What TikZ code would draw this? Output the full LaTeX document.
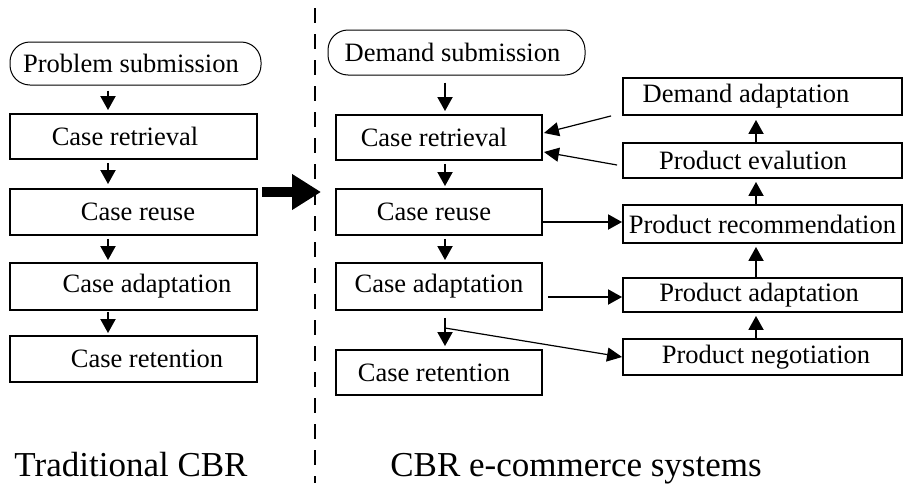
\documentclass[tikz,border=0pt]{standalone}
\usepackage{fontspec}
\setmainfont{Liberation Serif}
\usetikzlibrary{arrows.meta,calc}
\begin{document}
\begin{tikzpicture}[x=1pt,y=-1pt,
  box/.style={draw,line width=1.9pt,inner sep=0pt,font=\fontsize{26.5}{28}\selectfont},
  rbox/.style={draw,line width=1pt,rounded corners=20pt,inner sep=0pt,font=\fontsize{26.5}{28}\selectfont},
  arr/.style={line width=1.9pt,-{Triangle[width=15pt,length=14pt]}},
  tarr/.style={line width=1.2pt,-{Triangle[width=14pt,length=15pt]}},
  title/.style={anchor=base,font=\fontsize{35}{37}\selectfont}
]
\useasboundingbox (0,0) rectangle (905,485);
% left column
\node[rbox,minimum width=251pt,minimum height=43pt] (PS) at (135.5,63.5) {Problem submission\hspace*{9pt}};
\node[box,minimum width=247pt,minimum height=45pt] (CR1) at (133.5,136.5) {Case retrieval\hspace*{17pt}};
\node[box,minimum width=247pt,minimum height=46pt] (CU1) at (133.5,212) {\hspace*{9pt}Case reuse};
\node[box,minimum width=247pt,minimum height=47pt] (CA1) at (133.5,286.5) {\hspace*{27pt}Case adaptation};
\node[box,minimum width=247pt,minimum height=46pt] (CT1) at (133.5,359) {\hspace*{27pt}Case retention};
% right column, left boxes
\node[rbox,minimum width=257pt,minimum height=45pt] (DS) at (456.5,52.5) {Demand submission\hspace*{8pt}};
\node[box,minimum width=206pt,minimum height=45pt] (CR2) at (439,137.5) {Case retrieval\hspace*{10pt}};
\node[box,minimum width=206pt,minimum height=46pt] (CU2) at (439,212) {Case reuse\hspace*{10pt}};
\node[box,minimum width=206pt,minimum height=47pt] (CA2) at (439,286.5) {Case adaptation};
\node[box,minimum width=206pt,minimum height=45pt] (CT2) at (439,372.5) {Case retention\hspace*{10pt}};
% right boxes
\node[box,minimum width=279pt,minimum height=37pt] (DA) at (762.5,96.5) {Demand adaptation\hspace*{33pt}};
\node[box,minimum width=279pt,minimum height=35pt] (PE) at (762.5,160.5) {Product evalution\hspace*{19pt}};
\node[box,minimum width=279pt,minimum height=38pt] (PR) at (762.5,224) {Product recommendation};
\node[box,minimum width=279pt,minimum height=34pt] (PA) at (762.5,295) {Product adaptation\hspace*{7pt}};
\node[box,minimum width=279pt,minimum height=36pt] (PN) at (762.5,357) {\hspace*{7pt}Product negotiation};
% titles
\node[title] (T1) at (131,476) {Traditional CBR};
\node[title] (T2) at (576,476) {CBR e-commerce systems};
% divider
\draw[line width=1.5pt,dash pattern=on 15pt off 11pt] (315,8) -- (315,483);
% big arrow
\coordinate (ba) at (262,192);
\coordinate (bb) at (321,192);
\draw[line width=10pt,-{Triangle[width=34pt,length=29pt]}] (ba) -- (bb);
% left arrows
\coordinate (lx) at (108,0);
\draw[arr,shorten <=5pt,shorten >=3pt] (PS.south -| lx) -- (CR1.north -| lx);
\draw[arr,shorten <=3pt,shorten >=4pt] (CR1.south -| lx) -- (CU1.north -| lx);
\draw[arr,shorten <=3pt,shorten >=2pt] (CU1.south -| lx) -- (CA1.north -| lx);
\draw[arr,shorten <=1pt,shorten >=2pt] (CA1.south -| lx) -- (CT1.north -| lx);
% right column arrows
\coordinate (rx) at (445,0);
\draw[arr,shorten <=7pt,shorten >=3pt] (DS.south -| rx) -- (CR2.north -| rx);
\draw[arr,shorten <=3pt,shorten >=2pt] (CR2.south -| rx) -- (CU2.north -| rx);
\draw[arr,shorten <=3pt,shorten >=2pt] (CU2.south -| rx) -- (CA2.north -| rx);
\draw[arr,shorten <=7pt,shorten >=3pt] (CA2.south -| rx) -- (CT2.north -| rx);
\coordinate (br) at (445,328);
\draw[tarr] (br) -- (PN.west);
% horizontal arrows
\coordinate (h1) at ($(CU2.east)+(0,10)$);
\draw[arr] (h1) -- (PR.west |- h1);
\coordinate (h2) at ($(CA2.east)+(5,10.5)$);
\draw[arr] (h2) -- (PA.west |- h2);
% diagonal arrows to case retrieval
\coordinate (d1) at ($(DA.south west)+(-11,0)$);
\draw[tarr] (d1) -- ($(CR2.east)+(1,-4.5)$);
\coordinate (d2) at ($(PE.west)+(-5,4.5)$);
\draw[tarr] (d2) -- ($(CR2.east)+(1,14.5)$);
% up arrows
\coordinate (ux) at (756,0);
\draw[arr,shorten >=4pt] (PE.north -| ux) -- (DA.south -| ux);
\draw[arr,shorten >=3pt] (PR.north -| ux) -- (PE.south -| ux);
\draw[arr,shorten >=3pt] (PA.north -| ux) -- (PR.south -| ux);
\draw[arr,shorten >=3pt] (PN.north -| ux) -- (PA.south -| ux);
\end{tikzpicture}
\end{document}
